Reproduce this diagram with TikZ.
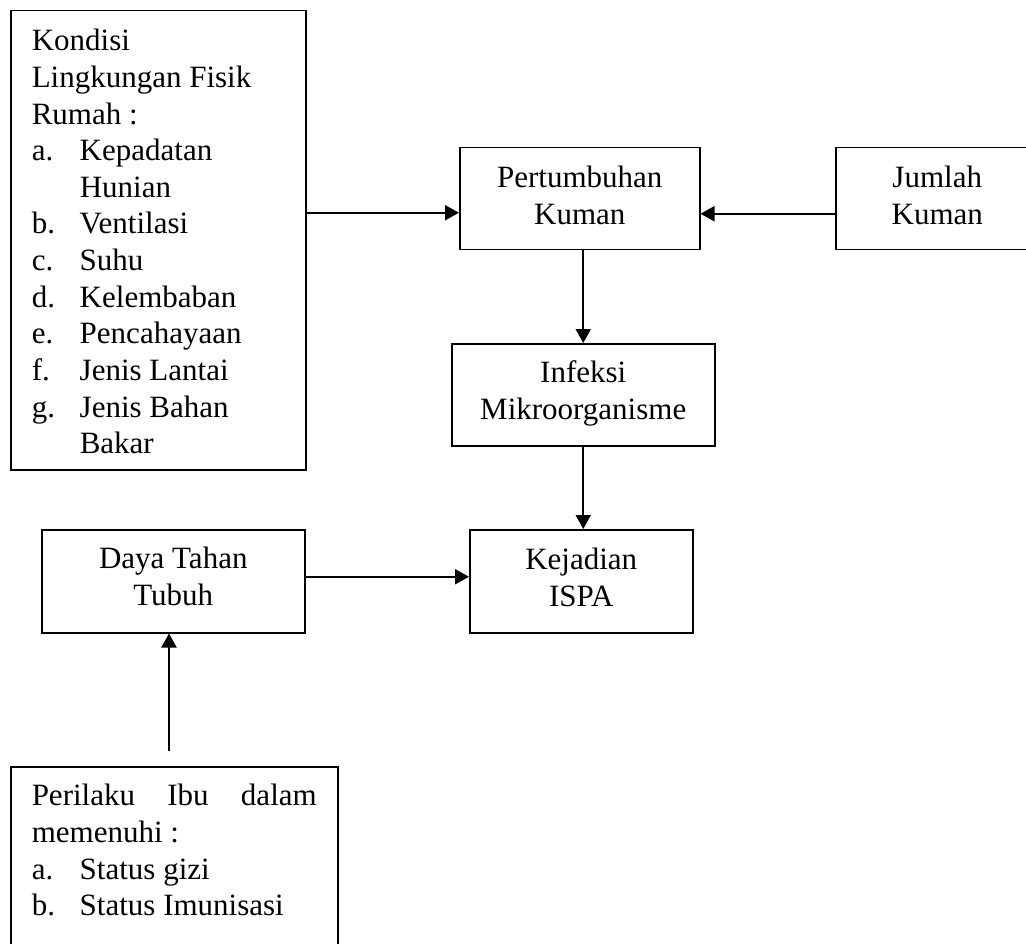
\documentclass[tikz,border=0pt]{standalone}
\usepackage{fontspec}
\setmainfont{Liberation Serif}
\usetikzlibrary{arrows.meta}
\newcommand\ctext[2]{\parbox[t]{#1}{\centering\fontsize{31}{36.3}\selectfont #2}}
\newcommand\ltext[2]{\parbox[t]{#1}{\raggedright\fontsize{31}{36.65}\selectfont #2}}
\newcommand\itm[1]{\makebox[48pt][l]{#1}}
\begin{document}
\begin{tikzpicture}[x=1pt,y=-1pt,
  blk/.style={draw, line width=1.5pt, inner sep=0pt, anchor=north west},
  arr/.style={line width=2pt, -{Triangle[length=14pt,width=15pt]}}]
\useasboundingbox (0,0) rectangle (1026,944);
\node[blk, inner xsep=21pt, text height=40pt, text depth=419pt] (kond) at (10,10)
  {\ltext{253pt}{Kondisi\\Lingkungan Fisik\\Rumah :\\\itm{a.}Kepadatan\\\itm{}Hunian\\\itm{b.}Ventilasi\\\itm{c.}Suhu\\\itm{d.}Kelembaban\\\itm{e.}Pencahayaan\\\itm{f.}Jenis Lantai\\\itm{g.}Jenis Bahan\\\itm{}Bakar}};
\node[blk, text height=40pt, text depth=62pt] (pert) at (459,147) {\ctext{240pt}{Pertumbuhan\\Kuman}};
\node[blk, text height=40pt, text depth=62pt] (jum) at (835,147) {\ctext{203pt}{Jumlah\\Kuman}};
\node[blk, text height=39pt, text depth=63pt] (inf) at (451,343) {\ctext{263pt}{Infeksi\\Mikroorganisme}};
\node[blk, text height=40pt, text depth=63pt] (kej) at (469,529) {\ctext{223pt}{Kejadian\\ISPA}};
\node[blk, text height=39pt, text depth=64pt] (daya) at (41,529) {\ctext{263pt}{Daya Tahan\\Tubuh}};
\node[blk, inner xsep=21pt, text height=39pt, text depth=200pt] (peri) at (10,766)
  {\ltext{285pt}{\leavevmode\hbox to 285pt{Perilaku\hfill Ibu\hfill dalam}\\memenuhi :\\\itm{a.}Status gizi\\\itm{b.}Status Imunisasi}};
\coordinate (pw) at ([yshift=-14pt]pert.west);
\coordinate (pe) at ([yshift=-15pt]pert.east);
\coordinate (de) at ([yshift=4.5pt]daya.east);
\coordinate (ps) at (169,751);
\draw[arr] (kond.east |- pw) -- (pw);
\draw[arr] (jum.west |- pe) -- (pe);
\draw[arr] (pert.south -| inf.north) -- (inf.north);
\draw[arr] (inf.south) -- (inf.south |- kej.north);
\draw[arr] (de) -- (de -| kej.west);
\draw[arr] (ps) -- (ps |- daya.south);
\end{tikzpicture}
\end{document}
